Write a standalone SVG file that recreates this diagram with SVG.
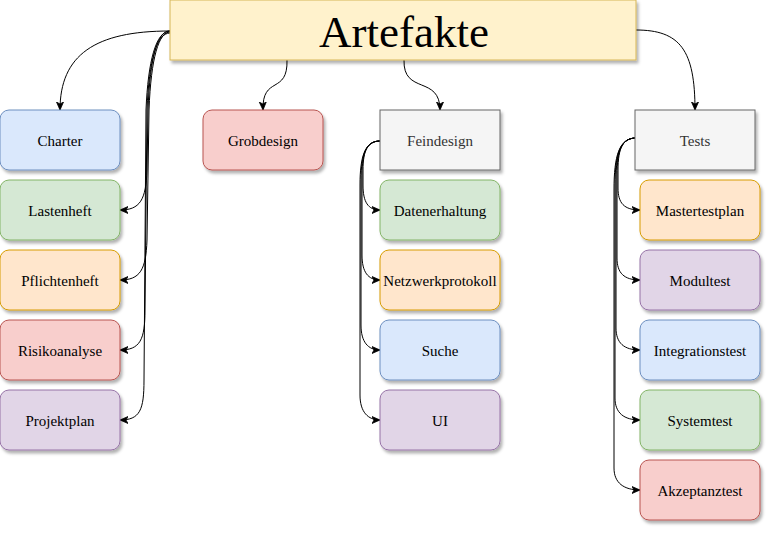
<svg xmlns="http://www.w3.org/2000/svg" width="774" height="535" viewBox="0 0 774 535">
<defs>
<filter id="sh" x="-10%" y="-10%" width="130%" height="140%">
<feDropShadow dx="2" dy="3" stdDeviation="1.5" flood-color="#000" flood-opacity="0.3"/>
</filter>
<marker id="ar" markerWidth="10" markerHeight="10" refX="8" refY="4" orient="auto" markerUnits="userSpaceOnUse">
<path d="M0,0.5 L8,4 L0,7.5 L2,4 z" fill="#000" stroke="#000" stroke-width="0.8"/>
</marker>
<style>
.n rect{filter:url(#sh);stroke-width:1}
.t{font-family:"Liberation Serif","Times New Roman",serif;font-size:15px;text-anchor:middle;fill:#000}
.g{fill:#333}
.blue{fill:#dae8fc;stroke:#6c8ebf}
.green{fill:#d5e8d4;stroke:#82b366}
.orange{fill:#ffe6cc;stroke:#d79b00}
.red{fill:#f8cecc;stroke:#b85450}
.purple{fill:#e1d5e7;stroke:#9673a6}
.grey{fill:#f5f5f5;stroke:#666666}
#edges path{fill:none;stroke:#000;stroke-width:1;marker-end:url(#ar)}
</style>
</defs>
<rect width="774" height="535" fill="#fff"/>
<g id="edges">
<path d="M170,31 C95,31 60,55 60,110"/>
<path d="M170,31 C158,31 150,55 148,110 L147,170 C146,200 140,210 120,210"/>
<path d="M170,32 C159,32 151,57 149,110 L147,240 C146,270 140,280 120,280"/>
<path d="M170,33 C157,33 149,59 147,110 L145,310 C145,340 140,350 120,350"/>
<path d="M170,31 C156,31 148,61 146,110 L144,380 C144,410 140,420 120,420"/>
<path d="M287,60 C288,95 262,75 263,110"/>
<path d="M404,60 C403,95 440,75 440,110"/>
<path d="M636,30 C680,30 695,50 695,110"/>
<path d="M380,141 C368,141 363,150 363,170 L363,185 C363,202 368,210 380,210"/>
<path d="M380,141 C367,141 362,152 362,175 L362,255 C362,272 368,280 380,280"/>
<path d="M380,141 C366,141 361,154 361,180 L361,325 C361,342 368,350 380,350"/>
<path d="M380,141 C365,141 360,156 360,185 L360,395 C360,412 368,420 380,420"/>
<path d="M636,138 C623,138 618,148 618,170 L618,188 C618,203 624,210 640,210"/>
<path d="M636,138 C622,138 617,150 617,175 L617,258 C617,273 624,280 640,280"/>
<path d="M636,138 C621,138 616,152 616,180 L616,328 C616,343 624,350 640,350"/>
<path d="M636,138 C620,138 615,154 615,185 L615,398 C615,413 624,420 640,420"/>
<path d="M636,138 C619,138 614,156 614,190 L614,468 C614,483 624,490 640,490"/>
</g>
<g id="artefakte" class="n">
<rect x="170" y="0" width="466" height="60" fill="#fff2cc" stroke="#d6b656"/>
<text x="404" y="47" style="font-family:'Liberation Serif','Times New Roman',serif;font-size:45px;text-anchor:middle;fill:#000">Artefakte</text>
</g>
<g id="charter" class="n"><rect class="blue" x="0" y="110" width="120" height="60" rx="9"/><text class="t" x="60" y="146">Charter</text></g>
<g id="lastenheft" class="n"><rect class="green" x="0" y="180" width="120" height="60" rx="9"/><text class="t" x="60" y="216">Lastenheft</text></g>
<g id="pflichtenheft" class="n"><rect class="orange" x="0" y="250" width="120" height="60" rx="9"/><text class="t" x="60" y="286">Pflichtenheft</text></g>
<g id="risikoanalyse" class="n"><rect class="red" x="0" y="320" width="120" height="60" rx="9"/><text class="t" x="60" y="356">Risikoanalyse</text></g>
<g id="projektplan" class="n"><rect class="purple" x="0" y="390" width="120" height="60" rx="9"/><text class="t" x="60" y="426">Projektplan</text></g>
<g id="grobdesign" class="n"><rect class="red" x="203" y="110" width="120" height="60" rx="9"/><text class="t" x="263" y="146">Grobdesign</text></g>
<g id="feindesign" class="n"><rect class="grey" x="380" y="110" width="120" height="60"/><text class="t g" x="440" y="146">Feindesign</text></g>
<g id="datenerhaltung" class="n"><rect class="green" x="380" y="180" width="120" height="60" rx="9"/><text class="t" x="440" y="216">Datenerhaltung</text></g>
<g id="netzwerkprotokoll" class="n"><rect class="orange" x="380" y="250" width="120" height="60" rx="9"/><text class="t" x="440" y="286">Netzwerkprotokoll</text></g>
<g id="suche" class="n"><rect class="blue" x="380" y="320" width="120" height="60" rx="9"/><text class="t" x="440" y="356">Suche</text></g>
<g id="ui" class="n"><rect class="purple" x="380" y="390" width="120" height="60" rx="9"/><text class="t" x="440" y="426">UI</text></g>
<g id="tests" class="n"><rect class="grey" x="635" y="110" width="120" height="60"/><text class="t g" x="695" y="146">Tests</text></g>
<g id="mastertestplan" class="n"><rect class="orange" x="640" y="180" width="120" height="60" rx="9"/><text class="t" x="700" y="216">Mastertestplan</text></g>
<g id="modultest" class="n"><rect class="purple" x="640" y="250" width="120" height="60" rx="9"/><text class="t" x="700" y="286">Modultest</text></g>
<g id="integrationstest" class="n"><rect class="blue" x="640" y="320" width="120" height="60" rx="9"/><text class="t" x="700" y="356">Integrationstest</text></g>
<g id="systemtest" class="n"><rect class="green" x="640" y="390" width="120" height="60" rx="9"/><text class="t" x="700" y="426">Systemtest</text></g>
<g id="akzeptanztest" class="n"><rect class="red" x="640" y="460" width="120" height="60" rx="9"/><text class="t" x="700" y="496">Akzeptanztest</text></g>
</svg>
